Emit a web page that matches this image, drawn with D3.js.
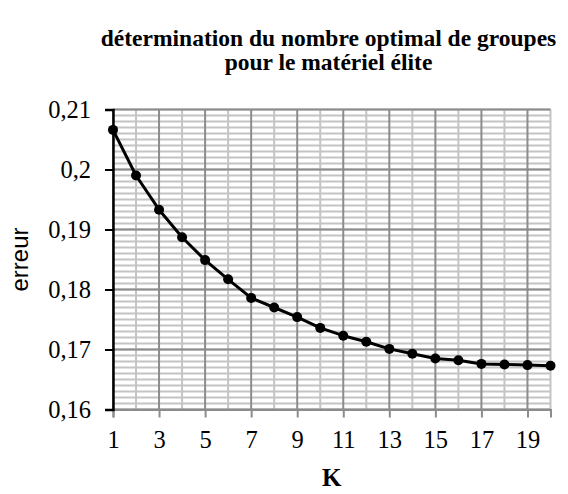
<!DOCTYPE html>
<html>
<head>
<meta charset="utf-8">
<script src="https://cdn.jsdelivr.net/npm/d3@7"></script>
<style>
  html, body { margin: 0; padding: 0; background: #fff; }
  svg { display: block; }
</style>
</head>
<body>
<svg id="chart" width="568" height="494"></svg>
<script>
const titleLines = ["détermination du nombre optimal de groupes", "pour le matériel élite"];
const xTitle = "K";
const yTitle = "erreur";
const kValues = [1,2,3,4,5,6,7,8,9,10,11,12,13,14,15,16,17,18,19,20];
const errValues = [0.2066,0.1990,0.1933,0.1887,0.1849,0.1817,0.1786,0.1770,0.1754,0.1736,0.1723,0.1713,0.1701,0.1693,0.1685,0.1682,0.1676,0.1675,0.1674,0.1673];
const xTickValues = [1,3,5,7,9,11,13,15,17,19];
const yTickValues = [0.16,0.17,0.18,0.19,0.20,0.21];
const yTickLabels = ["0,16","0,17","0,18","0,19","0,2","0,21"];
const yDomain = [0.16, 0.21];
const yMinorStep = 0.001;

const W = 568, H = 494;
const margin = {left: 113, right: 17.5, top: 109.5, bottom: 84.5};
const svg = d3.select("#chart");

const x = d3.scaleLinear().domain([1, 20]).range([margin.left, W - margin.right]);
const y = d3.scaleLinear().domain(yDomain).range([H - margin.bottom, margin.top]);

const grid = svg.append("g");
const minorY = d3.range(0, 51).map(i => yDomain[0] + i * yMinorStep);
grid.selectAll("line.hmin").data(minorY).join("line")
  .attr("x1", x(1)).attr("x2", x(20))
  .attr("y1", d => y(d)).attr("y2", d => y(d))
  .attr("stroke", "#c4c4c4").attr("stroke-width", 2);
grid.selectAll("line.vmin").data(kValues.filter(k => k % 2 === 0)).join("line")
  .attr("x1", d => x(d)).attr("x2", d => x(d))
  .attr("y1", y(yDomain[0])).attr("y2", y(yDomain[1]))
  .attr("stroke", "#c4c4c4").attr("stroke-width", 2);
grid.selectAll("line.hmaj").data(yTickValues).join("line")
  .attr("x1", x(1)).attr("x2", x(20))
  .attr("y1", d => y(d)).attr("y2", d => y(d))
  .attr("stroke", "#8c8c8c").attr("stroke-width", 2);
grid.selectAll("line.vmaj").data(xTickValues).join("line")
  .attr("x1", d => x(d)).attr("x2", d => x(d))
  .attr("y1", y(yDomain[0])).attr("y2", y(yDomain[1]))
  .attr("stroke", "#8c8c8c").attr("stroke-width", 2);

const serif = "'Liberation Serif', 'Times New Roman', serif";

const xAxis = svg.append("g")
  .attr("transform", `translate(0,${y(yDomain[0])})`)
  .call(d3.axisBottom(x).tickValues(xTickValues).tickSize(8).tickPadding(13).tickFormat(d3.format("d")));
xAxis.attr("font-family", serif).attr("font-size", 24.5);
xAxis.select(".domain").attr("stroke", "#8c8c8c").attr("stroke-width", 2);
xAxis.selectAll(".tick line").attr("stroke", "#8c8c8c").attr("stroke-width", 2);
xAxis.selectAll(".tick text").attr("fill", "#000");

const yAxis = svg.append("g")
  .attr("transform", `translate(${x(1)},0)`)
  .call(d3.axisLeft(y).tickValues(yTickValues).tickSize(8).tickPadding(14)
    .tickFormat((d, i) => yTickLabels[i]));
yAxis.attr("font-family", serif).attr("font-size", 24.5);
yAxis.select(".domain").attr("stroke", "#000").attr("stroke-width", 2.5);
yAxis.selectAll(".tick line").attr("stroke", "#000").attr("stroke-width", 2);
yAxis.selectAll(".tick text").attr("fill", "#000");

const pts = kValues.map((k, i) => ({k, v: errValues[i]}));
svg.append("path").datum(pts)
  .attr("fill", "none").attr("stroke", "#000").attr("stroke-width", 3)
  .attr("stroke-linejoin", "round")
  .attr("d", d3.line().x(d => x(d.k)).y(d => y(d.v)));
svg.selectAll("circle.pt").data(pts).join("circle")
  .attr("cx", d => x(d.k)).attr("cy", d => y(d.v)).attr("r", 5)
  .attr("fill", "#000");

const title = svg.append("text")
  .attr("text-anchor", "middle")
  .attr("font-family", serif)
  .attr("font-weight", "bold").attr("font-size", 23.5).attr("fill", "#000");
title.selectAll("tspan").data(titleLines).join("tspan")
  .attr("x", 328.5).attr("y", (d, i) => 46 + i * 24).text(d => d);

svg.append("text").attr("x", x(10.5)).attr("y", 486)
  .attr("text-anchor", "middle")
  .attr("font-family", serif)
  .attr("font-weight", "bold").attr("font-size", 25).text(xTitle);
svg.append("text")
  .attr("transform", `translate(28,${(y(yDomain[0]) + y(yDomain[1])) / 2}) rotate(-90)`)
  .attr("text-anchor", "middle")
  .attr("font-family", "'Liberation Sans', Arial, sans-serif")
  .attr("font-size", 24).text(yTitle);
</script>
</body>
</html>
